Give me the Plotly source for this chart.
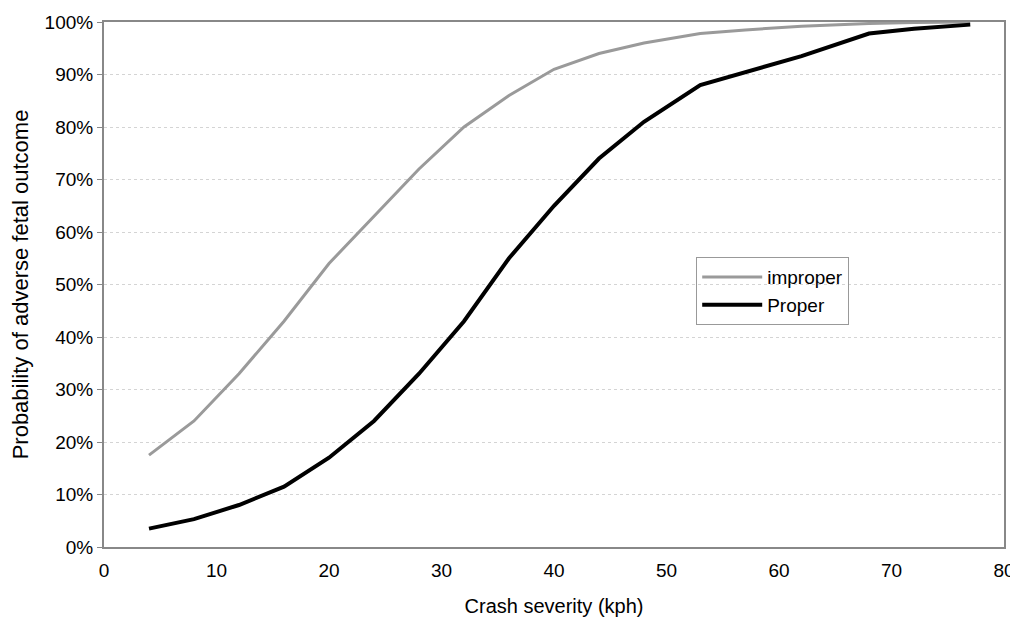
import plotly.graph_objects as go

# crash severity (kph) and probabilities (%)
speed = [4, 8, 12, 16, 20, 24, 28, 32, 36, 40, 44, 48, 53, 57, 62, 68, 72, 77]
improper = [17.5, 24, 33, 43, 54, 63, 72, 80, 86, 91, 94, 96, 97.8, 98.5, 99.2, 99.7, 99.9, 100]
proper = [3.5, 5.3, 8, 11.5, 17, 24, 33, 43, 55, 65, 74, 81, 88, 90.5, 93.5, 97.8, 98.7, 99.5]

fig = go.Figure()
fig.add_trace(go.Scatter(x=speed, y=improper, mode="lines", name="improper",
                         line=dict(color="#9a9a9a", width=3)))
fig.add_trace(go.Scatter(x=speed, y=proper, mode="lines", name="Proper",
                         line=dict(color="black", width=4)))

# page body has an 8px margin, so the figure is a bit smaller than the window
fig.update_layout(
    width=1010, height=609,
    margin=dict(l=96, r=14, t=14, b=70),
    paper_bgcolor="white", plot_bgcolor="white",
    font=dict(family="Liberation Sans, Arial", size=19, color="black"),
    showlegend=True,
    legend=dict(x=0.658, y=0.552, xanchor="left", yanchor="top",
                bgcolor="rgba(255,255,255,0)", bordercolor="#999", borderwidth=1,
                font=dict(size=19), itemwidth=60, tracegroupgap=0),
)
fig.update_xaxes(range=[0, 80], dtick=10, showgrid=False, ticks="",
                 showline=True, linecolor="#888", linewidth=2, mirror=True,
                 automargin=False, tickfont=dict(size=19), ticklabelstandoff=5,
                 title=dict(text="Crash severity (kph)", standoff=20, font=dict(size=20)),
                 zeroline=False)
fig.update_yaxes(range=[0, 100], dtick=10, ticksuffix="%", showgrid=True,
                 gridcolor="#d4d4d4", griddash="dot", gridwidth=1,
                 ticks="outside", ticklen=5, tickcolor="#888",
                 showline=True, linecolor="#888", linewidth=2, mirror=True,
                 automargin=False, tickfont=dict(size=19),
                 title=dict(text="Probability of adverse fetal outcome", standoff=10, font=dict(size=22)),
                 zeroline=False)

fig.write_html("out.html")
